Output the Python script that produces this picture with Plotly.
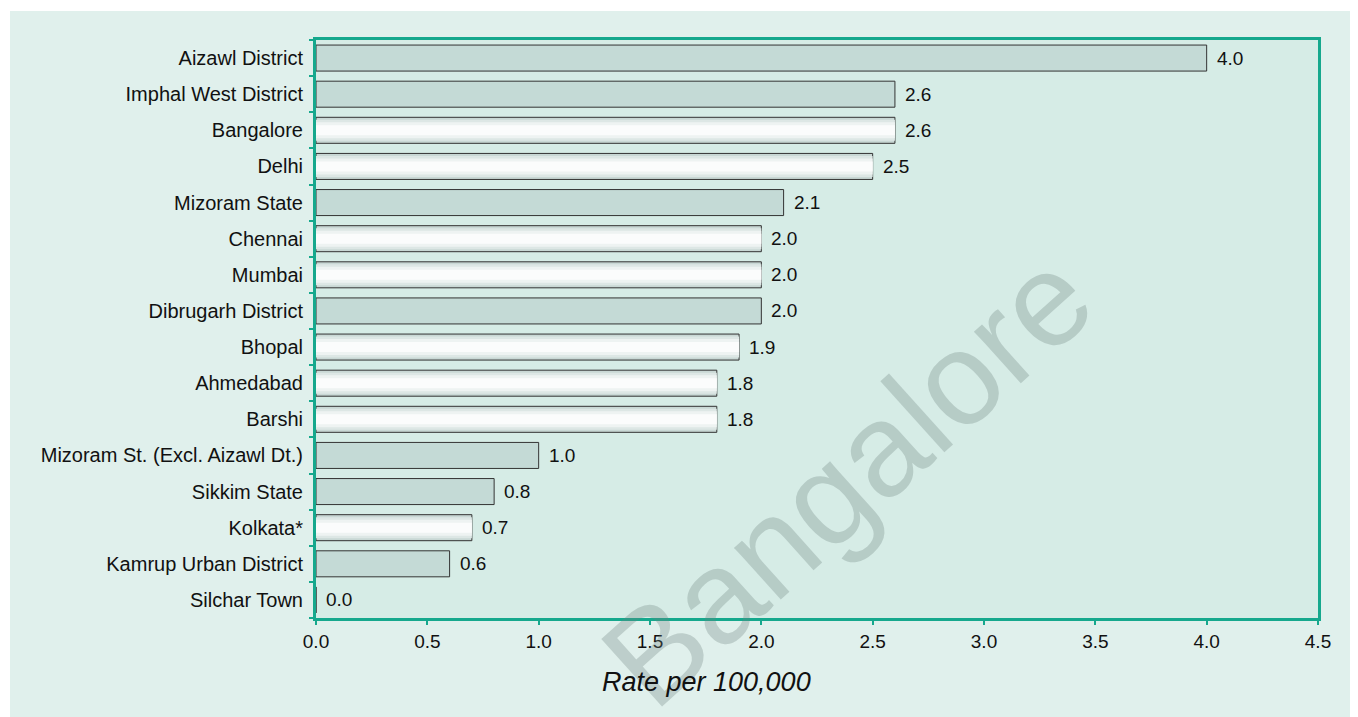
import plotly.graph_objects as go

categories = ["Aizawl District", "Imphal West District", "Bangalore", "Delhi", "Mizoram State",
              "Chennai", "Mumbai", "Dibrugarh District", "Bhopal", "Ahmedabad", "Barshi",
              "Mizoram St. (Excl. Aizawl Dt.)", "Sikkim State", "Kolkata*",
              "Kamrup Urban District", "Silchar Town"]
values = [4.0, 2.6, 2.6, 2.5, 2.1, 2.0, 2.0, 2.0, 1.9, 1.8, 1.8, 1.0, 0.8, 0.7, 0.6, 0.0]
# True = city (white gradient bar), False = district/state (grey-green bar)
is_city = [False, False, True, True, False, True, True, False, True, True, True,
           False, False, True, False, True]
x_ticks = [0.0, 0.5, 1.0, 1.5, 2.0, 2.5, 3.0, 3.5, 4.0, 4.5]

TEAL = "#16a88d"
FONT = "Liberation Sans, Arial, sans-serif"

fig = go.Figure()

grey_x = [v if not c else None for v, c in zip(values, is_city)]
city_x = [v if c else None for v, c in zip(values, is_city)]

# grey-green bars
fig.add_trace(go.Bar(y=categories, x=grey_x, orientation="h", width=0.72,
                     marker=dict(color="#c4dad6", line=dict(color="#333333", width=1)),
                     hoverinfo="skip", showlegend=False))
# city bars: layered to mimic the vertical gradient
layers = [(0.72, "#c9d8d5", 1), (0.58, "#dde7e5", 0), (0.44, "#eef3f2", 0),
          (0.28, "#fbfcfc", 0)]
for w, col, lw in layers:
    fig.add_trace(go.Bar(y=categories, x=city_x, orientation="h", width=w,
                         marker=dict(color=col, line=dict(color="#333333", width=lw)),
                         hoverinfo="skip", showlegend=False))

# value labels
for cat, v in zip(categories, values):
    fig.add_annotation(x=v, y=cat, text=f"{v:.1f}", showarrow=False, xanchor="left",
                       xshift=8, font=dict(family=FONT, size=19, color="#111111"))

# watermark
fig.add_annotation(x=0.530, y=0.242, xref="paper", yref="paper", text="Bangalore",
                   showarrow=False, textangle=-42, xanchor="center", yanchor="middle",
                   font=dict(family=FONT, size=132, color="rgba(110,130,125,0.30)"))

# axis title
fig.add_annotation(x=0.390, y=-0.111, xref="paper", yref="paper", text="<i>Rate per 100,000</i>",
                   showarrow=False, xanchor="center", yanchor="middle",
                   font=dict(family=FONT, size=27, color="#111111"))

# thin white strips around the light panel
fig.add_shape(type="rect", xref="paper", yref="paper", x0=-0.4, x1=1.1, y0=1.0502, y1=1.2,
              fillcolor="white", line_width=0, layer="below")
fig.add_shape(type="rect", xref="paper", yref="paper", x0=-0.4, x1=-0.3054, y0=-0.3, y1=1.2,
              fillcolor="white", line_width=0, layer="below")

fig.update_layout(
    width=1350, height=709,
    margin=dict(l=308, r=40, t=32, b=99),
    paper_bgcolor="#e0f0ec", plot_bgcolor="#d6ece6",
    barmode="overlay", bargap=0.28,
    font=dict(family=FONT, size=19, color="#111111"),
    xaxis=dict(range=[0, 4.5], tickvals=x_ticks, ticktext=[f"{t:.1f}" for t in x_ticks],
               showgrid=False, zeroline=False, showline=True, linecolor=TEAL, linewidth=3,
               mirror=True, ticks="outside", ticklen=4, tickwidth=2, tickcolor=TEAL,
               tickfont=dict(size=19), fixedrange=True),
    yaxis=dict(categoryorder="array", categoryarray=categories[::-1], autorange=False,
               range=[-0.5, len(categories) - 0.5],
               showgrid=False, zeroline=False, showline=True, linecolor=TEAL, linewidth=3,
               mirror=True, ticks="outside", tickson="boundaries", ticklen=4, tickwidth=2,
               tickcolor=TEAL, tickfont=dict(size=20), ticklabelstandoff=6),
)

fig.write_html("out.html")
